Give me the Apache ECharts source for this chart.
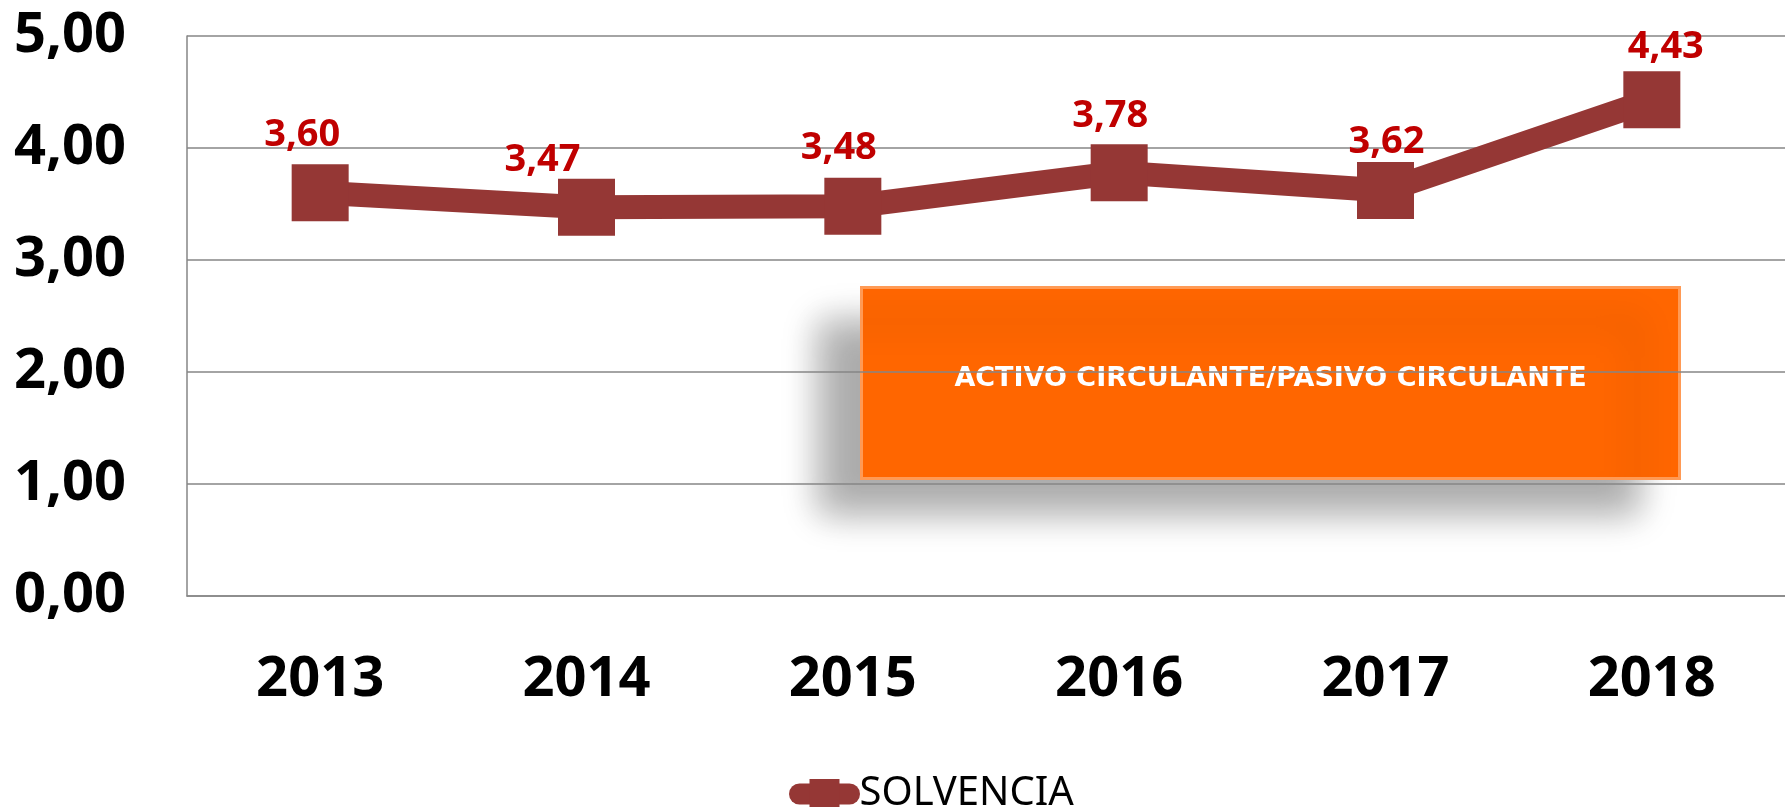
<!DOCTYPE html>
<html>
<head>
<meta charset="utf-8">
<script src="https://cdn.jsdelivr.net/npm/echarts@6/dist/echarts.min.js"></script>
<style>
  html, body { margin: 0; padding: 0; background: #fff; }
  #chart { width: 1785px; height: 807px; }
</style>
</head>
<body>
<div id="chart"></div>
<script>
// datos del gráfico
const years = ['2013', '2014', '2015', '2016', '2017', '2018'];
const solvencia = [3.60, 3.47, 3.48, 3.78, 3.62, 4.43];
const yTicks = [0, 1, 2, 3, 4, 5];
const seriesName = 'SOLVENCIA';
const boxText = 'ACTIVO CIRCULANTE/PASIVO CIRCULANTE';

// desplazamiento manual de las etiquetas (como en el original de Excel)
const labelShift = [[-18, -2], [-44, 8], [-14, -3], [-9, -1], [1, 7], [14, 3]];

const fmt = v => Number(v).toFixed(2).replace('.', ',');

const chart = echarts.init(document.getElementById('chart'), null, { renderer: 'canvas' });

chart.setOption({
  animation: false,
  grid: { left: 187, top: 36, width: 1602, height: 560, containLabel: false },
  legend: {
    data: [{
      name: seriesName,
      lineStyle: { width: 21, cap: 'round', color: '#953735' }
    }],
    left: 784,
    top: 769,
    itemWidth: 50,
    itemHeight: 37.5,
    itemGap: 0,
    textStyle: { fontFamily: 'Noto Sans', fontSize: 40, color: '#000', padding: [0, 0, 0, 5] }
  },
  xAxis: {
    type: 'category',
    data: years,
    axisLine: { lineStyle: { color: '#868686', width: 1.5 } },
    axisTick: { show: false },
    axisLabel: {
      margin: 56,
      fontFamily: 'Noto Sans',
      fontWeight: 'bold',
      fontSize: 56,
      color: '#000'
    }
  },
  yAxis: {
    type: 'value',
    min: yTicks[0],
    max: yTicks[yTicks.length - 1],
    interval: 1,
    axisLine: { show: true, lineStyle: { color: '#868686', width: 1.5 } },
    axisTick: { show: false },
    splitLine: { lineStyle: { color: '#868686', width: 1.5 } },
    axisLabel: {
      margin: 61,
      formatter: fmt,
      fontFamily: 'Noto Sans',
      fontWeight: 'bold',
      fontSize: 56,
      color: '#000'
    }
  },
  series: [{
    name: seriesName,
    type: 'line',
    data: solvencia.map((v, i) => ({
      value: v,
      label: { offset: labelShift[i] }
    })),
    symbol: 'rect',
    symbolSize: 57,
    lineStyle: { color: '#953735', width: 24 },
    itemStyle: { color: '#953735' },
    label: {
      show: true,
      position: 'top',
      distance: 8,
      formatter: p => fmt(p.value),
      fontFamily: 'Noto Sans',
      fontWeight: 'bold',
      fontSize: 38,
      color: '#C00000'
    },
    z: 3
  }],
  graphic: [{
    type: 'group',
    left: 860,
    top: 286,
    z: 1,
    children: [{
      type: 'rect',
      shape: { x: 0, y: 0, width: 818, height: 191 },
      style: {
        fill: '#FF6600',
        stroke: '#FF9A55',
        lineWidth: 3,
        shadowBlur: 34,
        shadowOffsetX: -42,
        shadowOffsetY: 34,
        shadowColor: 'rgba(0,0,0,0.33)'
      }
    }, {
      type: 'text',
      x: 409,
      y: 91,
      style: {
        text: boxText,
        fill: '#fff',
        font: 'bold 27px "DejaVu Sans"',
        align: 'center',
        verticalAlign: 'middle'
      }
    }]
  }]
});
</script>
</body>
</html>
